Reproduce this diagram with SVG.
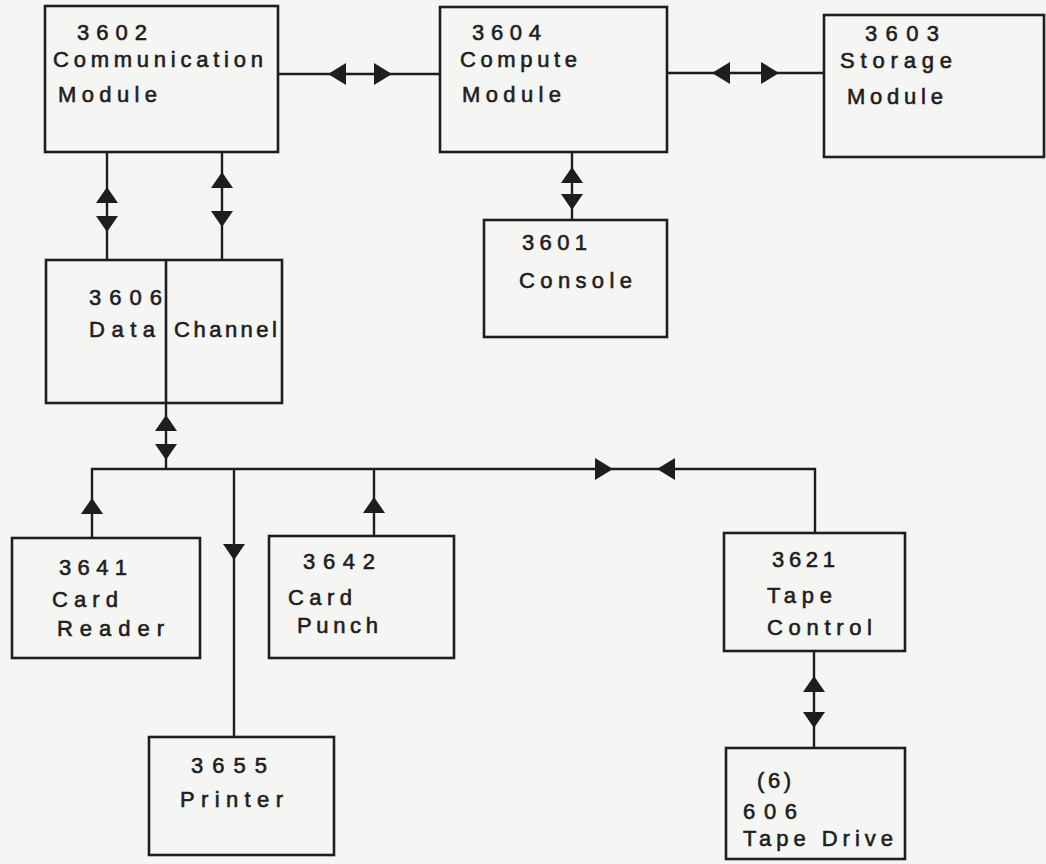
<svg xmlns="http://www.w3.org/2000/svg" xmlns:xlink="http://www.w3.org/1999/xlink" width="1046" height="864" viewBox="0 0 1046 864">
<style>
.box{fill:none;stroke:#1e1e1e;stroke-width:2.6}
.ln{fill:none;stroke:#1e1e1e;stroke-width:2.4}
.ah{fill:#1e1e1e}
text{font-family:"Liberation Sans",Arial,sans-serif;font-size:22px;fill:#1e1e1e;stroke:#1e1e1e;stroke-width:0.6}
</style>
<defs>
<path id="ar" class="ah" d="M0,0 L-18,-11 L-18,11 Z"/>
<path id="al" class="ah" d="M0,0 L18,-11 L18,11 Z"/>
<path id="au" class="ah" d="M0,0 L-11,16 L11,16 Z"/>
<path id="ad" class="ah" d="M0,0 L-11,-16 L11,-16 Z"/>
</defs>
<rect width="1046" height="864" fill="#f5f5f3"/>
<g id="connectors">
<line class="ln" x1="278" y1="74" x2="440" y2="74"/>
<use xlink:href="#al" x="328" y="74"/>
<use xlink:href="#ar" x="392" y="74"/>
<line class="ln" x1="667" y1="73" x2="824" y2="73"/>
<use xlink:href="#al" x="712" y="73"/>
<use xlink:href="#ar" x="779" y="73"/>
<line class="ln" x1="107" y1="152" x2="107" y2="260"/>
<use xlink:href="#au" x="107" y="187"/>
<use xlink:href="#ad" x="107" y="232"/>
<line class="ln" x1="222" y1="152" x2="222" y2="260"/>
<use xlink:href="#au" x="222" y="172"/>
<use xlink:href="#ad" x="222" y="227"/>
<line class="ln" x1="572" y1="152" x2="572" y2="220"/>
<use xlink:href="#au" x="572" y="167"/>
<use xlink:href="#ad" x="572" y="210"/>
<line class="ln" x1="166" y1="403" x2="166" y2="469"/>
<use xlink:href="#au" x="166" y="415"/>
<use xlink:href="#ad" x="166" y="460"/>
<polyline class="ln" points="92,538 92,469 815,469 815,533"/>
<use xlink:href="#ar" x="613" y="469"/>
<use xlink:href="#al" x="657" y="469"/>
<use xlink:href="#au" x="92" y="498"/>
<line class="ln" x1="234" y1="469" x2="234" y2="737"/>
<use xlink:href="#ad" x="234" y="560"/>
<line class="ln" x1="374" y1="469" x2="374" y2="536"/>
<use xlink:href="#au" x="374" y="497"/>
<line class="ln" x1="814" y1="651" x2="814" y2="748"/>
<use xlink:href="#au" x="814" y="676"/>
<use xlink:href="#ad" x="814" y="728"/>
</g>
<g id="n3602">
<rect class="box" x="45" y="6" width="233" height="146"/>
<text x="77" y="40" textLength="70" lengthAdjust="spacing">3602</text>
<text x="53" y="67" textLength="210" lengthAdjust="spacing">Communication</text>
<text x="58" y="102" textLength="99" lengthAdjust="spacing">Module</text>
</g>
<g id="n3604">
<rect class="box" x="440" y="7" width="227" height="145"/>
<text x="472" y="40" textLength="69" lengthAdjust="spacing">3604</text>
<text x="460" y="67" textLength="117" lengthAdjust="spacing">Compute</text>
<text x="462" y="102" textLength="99" lengthAdjust="spacing">Module</text>
</g>
<g id="n3603">
<rect class="box" x="824" y="15" width="220" height="142"/>
<text x="865" y="41" textLength="74" lengthAdjust="spacing">3603</text>
<text x="840" y="68" textLength="112" lengthAdjust="spacing">Storage</text>
<text x="847" y="104" textLength="96" lengthAdjust="spacing">Module</text>
</g>
<g id="n3601">
<rect class="box" x="484" y="220" width="183" height="117"/>
<text x="522" y="250" textLength="65" lengthAdjust="spacing">3601</text>
<text x="519" y="288" textLength="113" lengthAdjust="spacing">Console</text>
</g>
<g id="n3606">
<rect class="box" x="46" y="260" width="236" height="143"/>
<line class="box" x1="166" y1="260" x2="166" y2="403"/>
<text x="89" y="305" textLength="73" lengthAdjust="spacing">3606</text>
<text x="89" y="337" textLength="66" lengthAdjust="spacing">Data</text>
<text x="174" y="337" textLength="103" lengthAdjust="spacing">Channel</text>
</g>
<g id="n3641">
<rect class="box" x="12" y="538" width="188" height="120"/>
<text x="59" y="575" textLength="68" lengthAdjust="spacing">3641</text>
<text x="52" y="607" textLength="66" lengthAdjust="spacing">Card</text>
<text x="57" y="636" textLength="107" lengthAdjust="spacing">Reader</text>
</g>
<g id="n3642">
<rect class="box" x="269" y="536" width="185" height="122"/>
<text x="303" y="569" textLength="72" lengthAdjust="spacing">3642</text>
<text x="288" y="605" textLength="64" lengthAdjust="spacing">Card</text>
<text x="297" y="633" textLength="81" lengthAdjust="spacing">Punch</text>
</g>
<g id="n3655">
<rect class="box" x="149" y="737" width="185" height="118"/>
<text x="191" y="773" textLength="76" lengthAdjust="spacing">3655</text>
<text x="180" y="807" textLength="103" lengthAdjust="spacing">Printer</text>
</g>
<g id="n3621">
<rect class="box" x="724" y="533" width="181" height="118"/>
<text x="772" y="567" textLength="63" lengthAdjust="spacing">3621</text>
<text x="767" y="603" textLength="65" lengthAdjust="spacing">Tape</text>
<text x="767" y="635" textLength="105" lengthAdjust="spacing">Control</text>
</g>
<g id="n606">
<rect class="box" x="726" y="748" width="179" height="111"/>
<text x="757" y="788" textLength="34" lengthAdjust="spacing">(6)</text>
<text x="743" y="819" textLength="54" lengthAdjust="spacing">606</text>
<text x="743" y="846" textLength="150" lengthAdjust="spacing">Tape Drive</text>
</g>
</svg>
